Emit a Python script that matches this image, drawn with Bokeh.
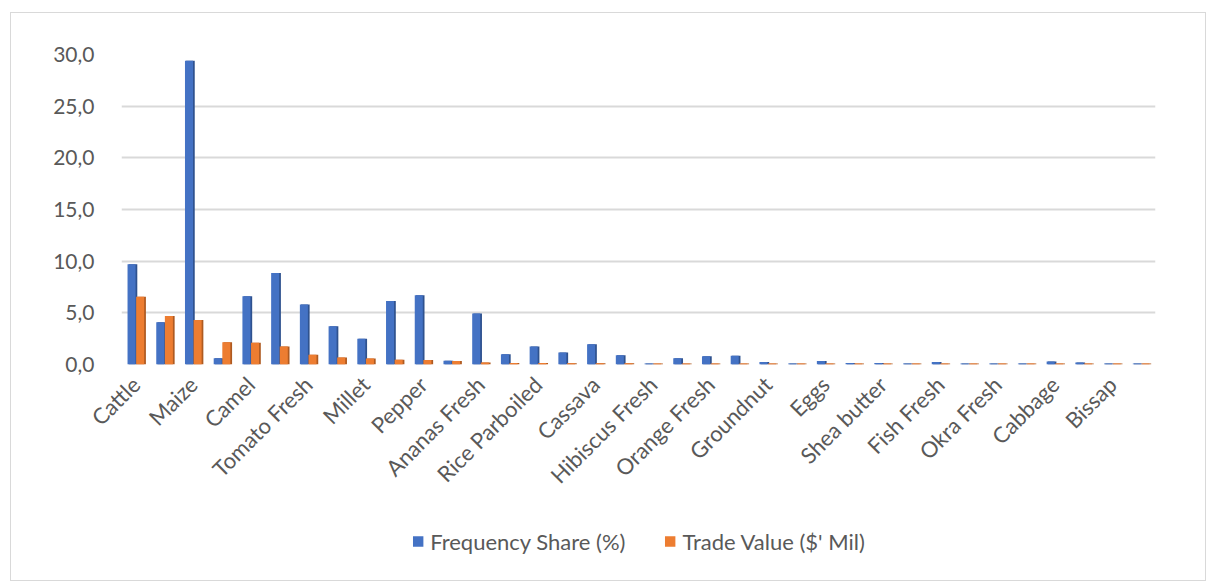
import numpy as np
from bokeh.plotting import figure
from bokeh.layouts import column
from bokeh.models import ColumnDataSource, FixedTicker, Legend, LegendItem, Range1d
from bokeh.transform import dodge
from bokeh.embed import file_html
from bokeh.resources import INLINE

# Labelled categories (every second category carries a label on the axis)
labels = ["Cattle", "Maize", "Camel", "Tomato Fresh", "Millet", "Pepper",
          "Ananas Fresh", "Rice Parboiled", "Cassava", "Hibiscus Fresh",
          "Orange Fresh", "Groundnut", "Eggs", "Shea butter", "Fish Fresh",
          "Okra Fresh", "Cabbage", "Bissap"]

freq_share = [9.7, 4.1, 29.4, 0.6, 6.6, 8.85, 5.8, 3.7, 2.5, 6.15, 6.7, 0.37,
              4.93, 1.0, 1.75, 1.15, 1.95, 0.9, 0.1, 0.6, 0.8, 0.85, 0.25, 0.1,
              0.35, 0.15, 0.15, 0.1, 0.25, 0.1, 0.1, 0.1, 0.3, 0.2, 0.1, 0.1]

trade_value = [6.55, 4.7, 4.3, 2.15, 2.1, 1.75, 0.95, 0.67, 0.57, 0.47, 0.44, 0.33,
               0.2, 0.15, 0.15, 0.12, 0.12, 0.12, 0.1, 0.1, 0.1, 0.1, 0.1, 0.1,
               0.1, 0.1, 0.1, 0.1, 0.1, 0.1, 0.1, 0.1, 0.1, 0.1, 0.1, 0.1]

series_names = ["Frequency Share (%)", "Trade Value ($' Mil)"]
y_ticks = [0, 5, 10, 15, 20, 25, 30]

BLUE, BLUE_D = "#4472C4", "#2F528F"
ORANGE, ORANGE_D = "#ED7D31", "#AE5A21"
TXT = "#595959"
FONT = "Lato"

n = len(freq_share)
src = ColumnDataSource(dict(idx=list(range(n)), freq=freq_share, trade=trade_value))

p = figure(width=1194, height=488, output_backend="svg", toolbar_location=None,
           x_range=Range1d(-0.5, n - 0.5), y_range=Range1d(0, 30),
           min_border_left=110, min_border_right=50, min_border_top=41,
           min_border_bottom=131)
p.outline_line_color = None
p.background_fill_color = "white"
p.border_fill_color = "white"

# pseudo 3D side faces
p.vbar(x=dodge("idx", -0.10, range=p.x_range), top="freq", width=0.30, source=src,
       fill_color=BLUE_D, line_color=None)
r1 = p.vbar(x=dodge("idx", -0.15, range=p.x_range), top="freq", width=0.28, source=src,
            fill_color=BLUE, line_color=None)
p.vbar(x=dodge("idx", 0.20, range=p.x_range), top="trade", width=0.30, source=src,
       fill_color=ORANGE_D, line_color=None)
r2 = p.vbar(x=dodge("idx", 0.15, range=p.x_range), top="trade", width=0.28, source=src,
            fill_color=ORANGE, line_color=None)

# axes
p.xaxis.ticker = FixedTicker(ticks=list(range(0, n, 2)))
p.xaxis.major_label_overrides = {i * 2: lab for i, lab in enumerate(labels)}
p.xaxis.major_label_orientation = np.pi / 4
p.xaxis.axis_line_color = None
p.xaxis.major_tick_line_color = None
p.xaxis.minor_tick_line_color = None
p.xaxis.major_label_standoff = 10
p.xaxis.major_label_text_font = FONT
p.xaxis.major_label_text_font_size = "22px"
p.xaxis.major_label_text_color = TXT

p.yaxis.ticker = FixedTicker(ticks=y_ticks)
p.yaxis.major_label_overrides = {t: f"{t:.1f}".replace(".", ",") for t in y_ticks}
p.yaxis.axis_line_color = None
p.yaxis.major_tick_line_color = None
p.yaxis.minor_tick_line_color = None
p.yaxis.major_label_standoff = 21
p.yaxis.major_label_text_font = FONT
p.yaxis.major_label_text_font_size = "21px"
p.yaxis.major_label_text_color = TXT

p.xgrid.grid_line_color = None
p.ygrid.grid_line_color = "#D9D9D9"
p.ygrid.grid_line_width = 2

# legend strip (swatch glyphs sit outside the visible range)
p2 = figure(width=1194, height=79, output_backend="svg", toolbar_location=None,
            x_range=Range1d(0, 1), y_range=Range1d(0, 1),
            min_border_left=0, min_border_top=0, min_border_bottom=0,
            min_border_right=34)
p2.outline_line_color = None
p2.axis.visible = False
p2.grid.visible = False
sw1 = p2.vbar(x=[-10], top=[0], width=0.1, fill_color=BLUE, line_color=None)
sw2 = p2.vbar(x=[-10], top=[0], width=0.1, fill_color=ORANGE, line_color=None)
legend = Legend(items=[LegendItem(label=series_names[0], renderers=[sw1]),
                       LegendItem(label=series_names[1], renderers=[sw2])],
                orientation="horizontal", location="center",
                label_text_font=FONT, label_text_font_size="22px",
                label_text_color=TXT, glyph_width=13, glyph_height=13,
                spacing=38, label_standoff=6, padding=5,
                border_line_color=None, background_fill_alpha=0)
p2.add_layout(legend, "center")

layout = column(p, p2, spacing=0, margin=(12, 0, 0, 10),
                styles={"border": "1px solid #D9D9D9"})

open("out.html", "w").write(file_html(layout, INLINE))
